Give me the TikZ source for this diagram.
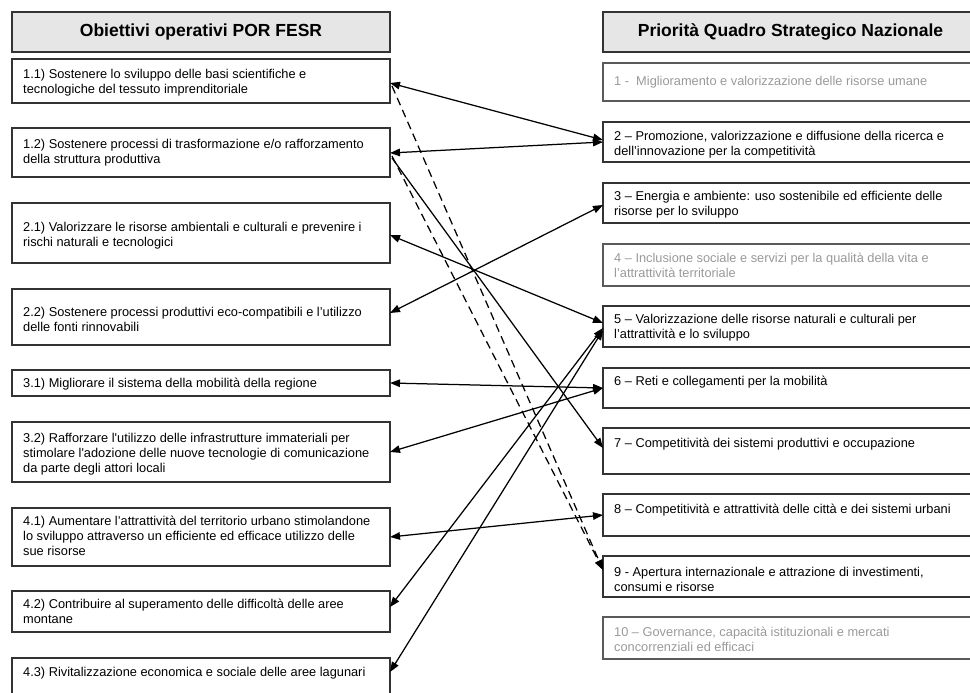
\documentclass[tikz,border=0pt]{standalone}
\usepackage{fontspec}
\setmainfont{Liberation Sans}[Ligatures=TeXOff]
\usetikzlibrary{arrows.meta,calc}
\definecolor{bordc}{HTML}{333333}
\definecolor{greyt}{HTML}{999999}
\definecolor{greyb}{HTML}{5A5A5A}
\definecolor{headfill}{HTML}{E6E6E6}
\begin{document}
\begin{tikzpicture}[x=1pt,y=-1pt,
  box/.style={draw=bordc, line width=1.2pt, inner sep=0pt, outer sep=0pt, anchor=north west},
  lbox/.style={box, minimum width=378pt},
  rbox/.style={box, minimum width=375pt},
  gbox/.style={rbox, draw=greyb},
  hdr/.style={box, fill=headfill, minimum height=40pt, font=\fontsize{17.5}{20}\selectfont\bfseries, anchor=north west},
  txt/.style={anchor=base west, inner sep=0pt, align=left, font=\fontsize{12.8}{15}\selectfont},
  gtxt/.style={txt, text=greyt},
  link/.style={line width=1.25pt, {Triangle[length=10pt,width=7.5pt]}-{Triangle[length=10pt,width=7.5pt]}},
  onew/.style={line width=1.25pt, -{Triangle[length=10pt,width=7.5pt]}},
  dsh/.style={onew, dash pattern=on 8pt off 5pt}]
\useasboundingbox (0,0) rectangle (970,693);
% headers
\node[hdr, minimum width=378pt] (HL) at (12,12) {Obiettivi operativi POR FESR};
\node[hdr, minimum width=375pt] (HR) at (603,12) {Priorità Quadro Strategico Nazionale};
% left boxes
\node[lbox, minimum height=44pt] (L11) at (12,59) {};
\node[lbox, minimum height=49pt] (L12) at (12,128) {};
\node[lbox, minimum height=60pt] (L21) at (12,203) {};
\node[lbox, minimum height=56pt] (L22) at (12,289) {};
\node[lbox, minimum height=26pt] (L31) at (12,370) {};
\node[lbox, minimum height=60pt] (L32) at (12,422) {};
\node[lbox, minimum height=58pt] (L41) at (12,508) {};
\node[lbox, minimum height=41pt] (L42) at (12,591) {};
\node[lbox, minimum height=50pt] (L43) at (12,658) {};
\node[txt] (tL11) at ([xshift=11pt,yshift=-34pt]L11.north west) {1.1) Sostenere lo sviluppo delle basi scientifiche e\\tecnologiche del tessuto imprenditoriale};
\node[txt] (tL12) at ([xshift=11pt,yshift=-35pt]L12.north west) {1.2) Sostenere processi di trasformazione e/o rafforzamento\\della struttura produttiva};
\node[txt] (tL21) at ([xshift=11pt,yshift=-43pt]L21.north west) {2.1) Valorizzare le risorse ambientali e culturali e prevenire i\\rischi naturali e tecnologici};
\node[txt] (tL22) at ([xshift=11pt,yshift=-42pt]L22.north west) {2.2) Sostenere processi produttivi eco-compatibili e l’utilizzo\\delle fonti rinnovabili};
\node[txt] (tL31) at ([xshift=11pt,yshift=-17pt]L31.north west) {3.1) Migliorare il sistema della mobilità della regione};
\node[txt] (tL32) at ([xshift=11pt,yshift=-50pt]L32.north west) {3.2) Rafforzare l'utilizzo delle infrastrutture immateriali per\\stimolare l'adozione delle nuove tecnologie di comunicazione\\da parte degli attori locali};
\node[txt] (tL41) at ([xshift=11pt,yshift=-47pt]L41.north west) {4.1) Aumentare l’attrattività del territorio urbano stimolandone\\lo sviluppo attraverso un efficiente ed efficace utilizzo delle\\sue risorse};
\node[txt] (tL42) at ([xshift=11pt,yshift=-32pt]L42.north west) {4.2) Contribuire al superamento delle difficoltà delle aree\\montane};
\node[txt] (tL43) at ([xshift=11pt,yshift=-18pt]L43.north west) {4.3) Rivitalizzazione economica e sociale delle aree lagunari};
% right boxes
\node[gbox, minimum height=38pt] (R1) at (603,63) {};
\node[rbox, minimum height=40pt] (R2) at (603,122) {};
\node[rbox, minimum height=40pt] (R3) at (603,183) {};
\node[gbox, minimum height=42pt] (R4) at (603,244) {};
\node[rbox, minimum height=41pt] (R5) at (603,306) {};
\node[rbox, minimum height=40pt] (R6) at (603,368) {};
\node[rbox, minimum height=46pt] (R7) at (603,428) {};
\node[rbox, minimum height=42pt] (R8) at (603,494) {};
\node[rbox, minimum height=41pt] (R9) at (603,556) {};
\node[gbox, minimum height=42pt] (R10) at (603,617) {};
\node[gtxt] (tR1) at ([xshift=11pt,yshift=-22pt]R1.north west) {1 -\ \ Miglioramento e valorizzazione delle risorse umane};
\node[txt] (tR2) at ([xshift=11pt,yshift=-33pt]R2.north west) {2 – Promozione, valorizzazione e diffusione della ricerca e\\dell’innovazione per la competitività};
\node[txt] (tR3) at ([xshift=11pt,yshift=-32pt]R3.north west) {3 – Energia e ambiente: uso sostenibile ed efficiente delle\\risorse per lo sviluppo};
\node[gtxt] (tR4) at ([xshift=11pt,yshift=-33pt]R4.north west) {4 – Inclusione sociale e servizi per la qualità della vita e\\l’attrattività territoriale};
\node[txt] (tR5) at ([xshift=11pt,yshift=-32pt]R5.north west) {5 – Valorizzazione delle risorse naturali e culturali per\\l’attrattività e lo sviluppo};
\node[txt] (tR6) at ([xshift=11pt,yshift=-17pt]R6.north west) {6 – Reti e collegamenti per la mobilità};
\node[txt] (tR7) at ([xshift=11pt,yshift=-19pt]R7.north west) {7 – Competitività dei sistemi produttivi e occupazione};
\node[txt] (tR8) at ([xshift=11pt,yshift=-19pt]R8.north west) {8 – Competitività e attrattività delle città e dei sistemi urbani};
\node[txt] (tR9) at ([xshift=11pt,yshift=-35pt]R9.north west) {9 - Apertura internazionale e attrazione di investimenti,\\consumi e risorse};
\node[gtxt] (tR10) at ([xshift=11pt,yshift=-34pt]R10.north west) {10 – Governance, capacità istituzionali e mercati\\concorrenziali ed efficaci};
% connectors
\draw[link] ([yshift=-24pt]L11.north east) -- ([yshift=-18pt]R2.north west);
\draw[link] ([yshift=-25pt]L12.north east) -- ([yshift=-20pt]R2.north west);
\draw[onew] ([xshift=2pt,yshift=-30pt]L12.north east) -- ([yshift=-20pt]R7.north west);
\draw[dsh] ([xshift=2pt,yshift=-27pt]L11.north east) -- ([yshift=-14pt]R9.north west);
\draw[dsh] ([xshift=2pt,yshift=-28pt]L12.north east) -- ([yshift=-14pt]R9.north west);
\draw[link] ([yshift=-32pt]L21.north east) -- ([yshift=-17pt]R5.north west);
\draw[link] ([yshift=-24pt]L22.north east) -- ([yshift=-22pt]R3.north west);
\draw[link] ([yshift=-13pt]L31.north east) -- ([yshift=-20pt]R6.north west);
\draw[link] ([yshift=-30pt]L32.north east) -- ([yshift=-20pt]R6.north west);
\draw[link] ([yshift=-29pt]L41.north east) -- ([yshift=-21pt]R8.north west);
\draw[link] ([yshift=-16pt]L42.north east) -- ([yshift=-22pt]R5.north west);
\draw[link] ([yshift=-14pt]L43.north east) -- ([yshift=-24pt]R5.north west);
\end{tikzpicture}
\end{document}
